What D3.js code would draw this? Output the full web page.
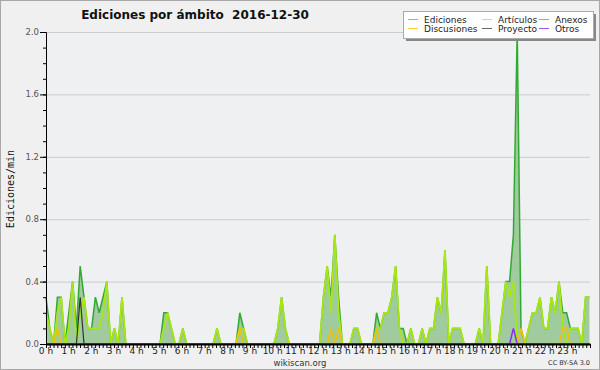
<!DOCTYPE html>
<html><head><meta charset="utf-8">
<script src="https://cdn.jsdelivr.net/npm/d3@7"></script>
<style>
html,body{margin:0;padding:0;background:#f0f0f0;}
svg{display:block;}
</style></head>
<body>
<script>
// ---- data (10-minute slots, 144 per day) ----
const hourLabels = ["0 h","1 h","2 h","3 h","4 h","5 h","6 h","7 h","8 h","9 h","10 h","11 h","12 h","13 h","14 h","15 h","16 h","17 h","18 h","19 h","20 h","21 h","22 h","23 h"];
const yTicks = [0, 0.4, 0.8, 1.2, 1.6, 2.0];
const ediciones = [
 0.3,0.1,0,0.3,0.3,0,   0.2,0.4,0.1,0.5,0.3,0.1,  0.1,0.3,0.2,0.3,0.4,0,   0.1,0,0.3,0,0,0,
 0,0,0,0,0,0,           0,0.2,0.2,0.1,0,0,        0.1,0,0,0,0,0,           0,0,0,0.1,0,0,
 0,0,0,0.2,0.1,0,       0,0,0,0,0,0,              0,0.1,0.3,0.1,0,0,       0,0,0,0,0,0,
 0,0.3,0.5,0.3,0.7,0.3, 0,0,0,0.1,0.1,0,          0,0,0,0.2,0.1,0.2,       0.2,0.3,0.5,0.1,0.1,0,
 0.1,0,0,0.1,0,0.1,     0.1,0.3,0.2,0.6,0,0.1,    0.1,0.1,0,0,0,0,         0.1,0,0.5,0,0,0,
 0.2,0.4,0.4,0.7,2.0,0.1, 0,0.1,0.2,0.2,0.3,0.1,  0.1,0.3,0.2,0.4,0.2,0.2, 0.1,0.1,0.1,0,0.3,0.3
];
const articulos = [
 0.2,0.1,0,0.2,0.3,0,   0.1,0.4,0,0.2,0.3,0.1,    0.1,0.1,0.1,0.2,0.4,0,   0.1,0,0.3,0,0,0,
 0,0,0,0,0,0,           0,0.1,0.2,0.1,0,0,        0.1,0,0,0,0,0,           0,0,0,0.1,0,0,
 0,0,0,0.1,0.1,0,       0,0,0,0,0,0,              0,0.1,0.3,0.1,0,0,       0,0,0,0,0,0,
 0,0.3,0.5,0.2,0.7,0.2, 0,0,0,0.1,0.1,0,          0,0,0,0.1,0.1,0.2,       0.2,0.3,0.5,0.1,0,0,
 0.1,0,0,0.1,0,0.1,     0.1,0.3,0.2,0.6,0,0.1,    0.1,0.1,0,0,0,0,         0.1,0,0.5,0,0,0,
 0.2,0.4,0.3,0.4,0,0,   0,0.1,0.2,0.2,0.3,0.1,    0.1,0.3,0.2,0.4,0.1,0,   0.1,0.1,0.1,0,0.3,0.3
];
const discusiones = [
 0,0,0,0.1,0,0, 0,0,0,0,0,0, 0,0,0,0,0,0, 0,0,0,0,0,0,
 0,0,0,0,0,0, 0,0,0,0,0,0, 0,0,0,0,0,0, 0,0,0,0,0,0,
 0,0,0,0.1,0,0, 0,0,0,0,0,0, 0,0,0,0,0,0, 0,0,0,0,0,0,
 0,0,0,0.1,0,0.1, 0,0,0,0,0,0, 0,0,0,0.1,0,0, 0,0,0,0,0,0,
 0,0,0,0,0,0, 0,0,0,0,0,0, 0,0,0,0,0,0, 0,0,0,0,0,0,
 0,0,0,0,0,0.1, 0,0,0,0,0,0, 0,0,0,0,0.1,0.1, 0,0,0,0,0,0
];
const proyecto = [
 0,0,0,0,0,0, 0,0,0,0.3,0,0, 0,0,0,0,0,0, 0,0,0,0,0,0,
 0,0,0,0,0,0, 0,0,0,0,0,0, 0,0,0,0,0,0, 0,0,0,0,0,0,
 0,0,0,0,0,0, 0,0,0,0,0,0, 0,0,0,0,0,0, 0,0,0,0,0,0,
 0,0,0,0,0,0, 0,0,0,0,0,0, 0,0,0,0,0,0, 0,0,0,0,0,0,
 0,0,0,0,0,0, 0,0,0,0,0,0, 0,0,0,0,0,0, 0,0,0,0,0,0,
 0,0,0,0,0,0, 0,0,0,0,0,0, 0,0,0,0,0,0, 0,0,0,0,0,0
];
const anexos = [
 0,0,0,0,0,0, 0,0,0,0,0,0, 0,0,0,0,0,0, 0,0,0,0,0,0,
 0,0,0,0,0,0, 0,0,0,0,0,0, 0,0,0,0,0,0, 0,0,0,0,0,0,
 0,0,0,0,0,0, 0,0,0,0,0,0, 0,0,0,0,0,0, 0,0,0,0,0,0,
 0,0,0,0,0,0, 0,0,0,0,0,0, 0,0,0,0,0,0, 0,0,0,0,0,0,
 0,0,0,0,0,0, 0,0,0,0,0,0, 0,0,0,0,0,0, 0,0,0,0,0,0,
 0,0,0,0,0,0, 0,0,0,0,0,0, 0,0,0,0,0,0, 0,0,0,0,0,0
];
const otros = [
 0,0,0,0,0,0, 0,0,0,0,0,0, 0,0,0,0,0,0, 0,0,0,0,0,0,
 0,0,0,0,0,0, 0,0,0,0,0,0, 0,0,0,0,0,0, 0,0,0,0,0,0,
 0,0,0,0,0,0, 0,0,0,0,0,0, 0,0,0,0,0,0, 0,0,0,0,0,0,
 0,0,0,0,0,0, 0,0,0,0,0,0, 0,0,0,0,0,0, 0,0,0,0,0,0,
 0,0,0,0,0,0, 0,0,0,0,0,0, 0,0,0,0,0,0, 0,0,0,0,0,0,
 0,0,0,0.1,0,0, 0,0,0,0,0,0, 0,0,0,0,0,0, 0,0,0,0,0,0
];
const legendNames = ["Ediciones","Artículos","Anexos","Discusiones","Proyecto","Otros"];
const legendColors = ["#77cc77","#ccee44","#ff8844","#ffcc33","#666666","#9955ff"];

// ---- drawing ----
const W = 600, H = 370;
const svg = d3.select("body").append("svg").attr("width", W).attr("height", H);
svg.append("rect").attr("x",0.5).attr("y",0.5).attr("width",W-1).attr("height",H-1)
  .attr("fill","#f0f0f0").attr("stroke","#a8a8a8");

const x = d3.scaleLinear().domain([0, 24]).range([46, 590]);
const xs = d3.scaleLinear().domain([0, 144]).range([46, 46 + 3.8 * 144]);
const y = d3.scaleLinear().domain([0, 2.0]).range([344, 32]);

// plot background
svg.append("rect").attr("x", x(0)).attr("y", y(2)).attr("width", x(24)-x(0)).attr("height", y(0)-y(2))
  .attr("fill", "#eff0f2");

// grid
svg.append("g").selectAll("line").data(yTicks.filter(d => d > 0)).join("line")
  .attr("x1", x(0)).attr("x2", x(24)).attr("y1", d => y(d)+0.5).attr("y2", d => y(d)+0.5)
  .attr("stroke", "#cccccc").attr("stroke-width", 1);

// area + lines
const area = d3.area().x((d,i) => xs(i)).y0(y(0)).y1(d => y(d));
const line = d3.line().x((d,i) => xs(i)).y(d => y(d));
svg.append("path").datum(ediciones).attr("d", area).attr("fill", "#9fcb9f");
svg.append("path").datum(ediciones).attr("d", line).attr("fill","none").attr("stroke","#33a833").attr("stroke-width",1.5);
svg.append("path").datum(articulos).attr("d", line).attr("fill","none").attr("stroke","#a8e614").attr("stroke-width",1.8);
svg.append("path").datum(anexos).attr("d", line).attr("fill","none").attr("stroke","#ff8844").attr("stroke-width",1.5);
svg.append("path").datum(discusiones).attr("d", line).attr("fill","none").attr("stroke","#f5c000").attr("stroke-width",1.5);
svg.append("path").datum(proyecto).attr("d", line).attr("fill","none").attr("stroke","#333333").attr("stroke-width",1.2);
svg.append("path").datum(otros).attr("d", line).attr("fill","none").attr("stroke","#8833ee").attr("stroke-width",1.5);

// y axis
const yMinor = d3.range(0, 21).map(k => k / 10);
const yAxis = svg.append("g").attr("transform", `translate(${x(0)},0)`);
yAxis.call(d3.axisLeft(y).tickValues(yMinor).tickSize(3).tickFormat(""));
yAxis.call(g => g.selectAll(".major").data(yTicks).join("line").attr("class","major")
  .attr("x1",-6).attr("x2",0).attr("y1",d=>y(d)+0.5).attr("y2",d=>y(d)+0.5).attr("stroke","#000"));
yAxis.selectAll(".lab").data(yTicks).join("text").attr("class","lab")
  .attr("x", -7).attr("y", d => y(d) + 3).attr("text-anchor","end")
  .attr("font-family","DejaVu Sans").attr("font-size",8.5).attr("fill","#555")
  .text(d3.format(".1f"));
yAxis.select(".domain").attr("stroke","#000");

// x axis
const xMinor = d3.range(0, 145).map(k => k / 6);
const xAxis = svg.append("g").attr("transform", `translate(0,${y(0)})`);
xAxis.call(d3.axisBottom(x).tickValues(xMinor).tickSize(4).tickSizeOuter(0).tickFormat(""));
xAxis.select(".domain").attr("stroke","#000").attr("stroke-width",2);
xAxis.selectAll(".lab").data(hourLabels).join("text").attr("class","lab")
  .attr("x", (d,i) => x(i)).attr("y", 10).attr("text-anchor","middle")
  .attr("font-family","DejaVu Sans").attr("font-size",9).attr("fill","#222")
  .text(d => d);

// titles
svg.append("text").attr("x", 195).attr("y", 19).attr("text-anchor","middle")
  .attr("font-family","DejaVu Sans").attr("font-weight","bold").attr("font-size",12).attr("fill","#111")
  .text("Ediciones por ámbito\u00a0\u00a02016-12-30");
svg.append("text").attr("transform","translate(14,189) rotate(-90)").attr("text-anchor","middle")
  .attr("font-family","DejaVu Sans Mono").attr("font-size",10).attr("fill","#111")
  .text("Ediciones/min");
svg.append("text").attr("x", 300).attr("y", 366).attr("text-anchor","middle")
  .attr("font-family","DejaVu Sans").attr("font-size",8.5).attr("fill","#333")
  .text("wikiscan.org");
svg.append("text").attr("x", 590).attr("y", 365).attr("text-anchor","end")
  .attr("font-family","DejaVu Sans").attr("font-size",6.5).attr("fill","#333")
  .text("CC BY-SA 3.0");

// legend
const lg = svg.append("g");
lg.append("rect").attr("x",406).attr("y",14).attr("width",190).attr("height",27).attr("fill","#888");
lg.append("rect").attr("x",403.5).attr("y",11.5).attr("width",190).attr("height",27).attr("fill","#fff").attr("stroke","#aaa");
const colX = [408, 482, 539], rowY = [20, 29];
legendNames.forEach((n, k) => {
  const cx = colX[k % 3], cy = rowY[Math.floor(k / 3)];
  lg.append("line").attr("x1",cx).attr("x2",cx+10).attr("y1",cy-0.5).attr("y2",cy-0.5)
    .attr("stroke",legendColors[k]).attr("stroke-width",1);
  lg.append("text").attr("x",cx+16).attr("y",cy+3).attr("font-family","DejaVu Sans")
    .attr("font-size",9).attr("fill","#222").text(n);
});
</script>
</body></html>
